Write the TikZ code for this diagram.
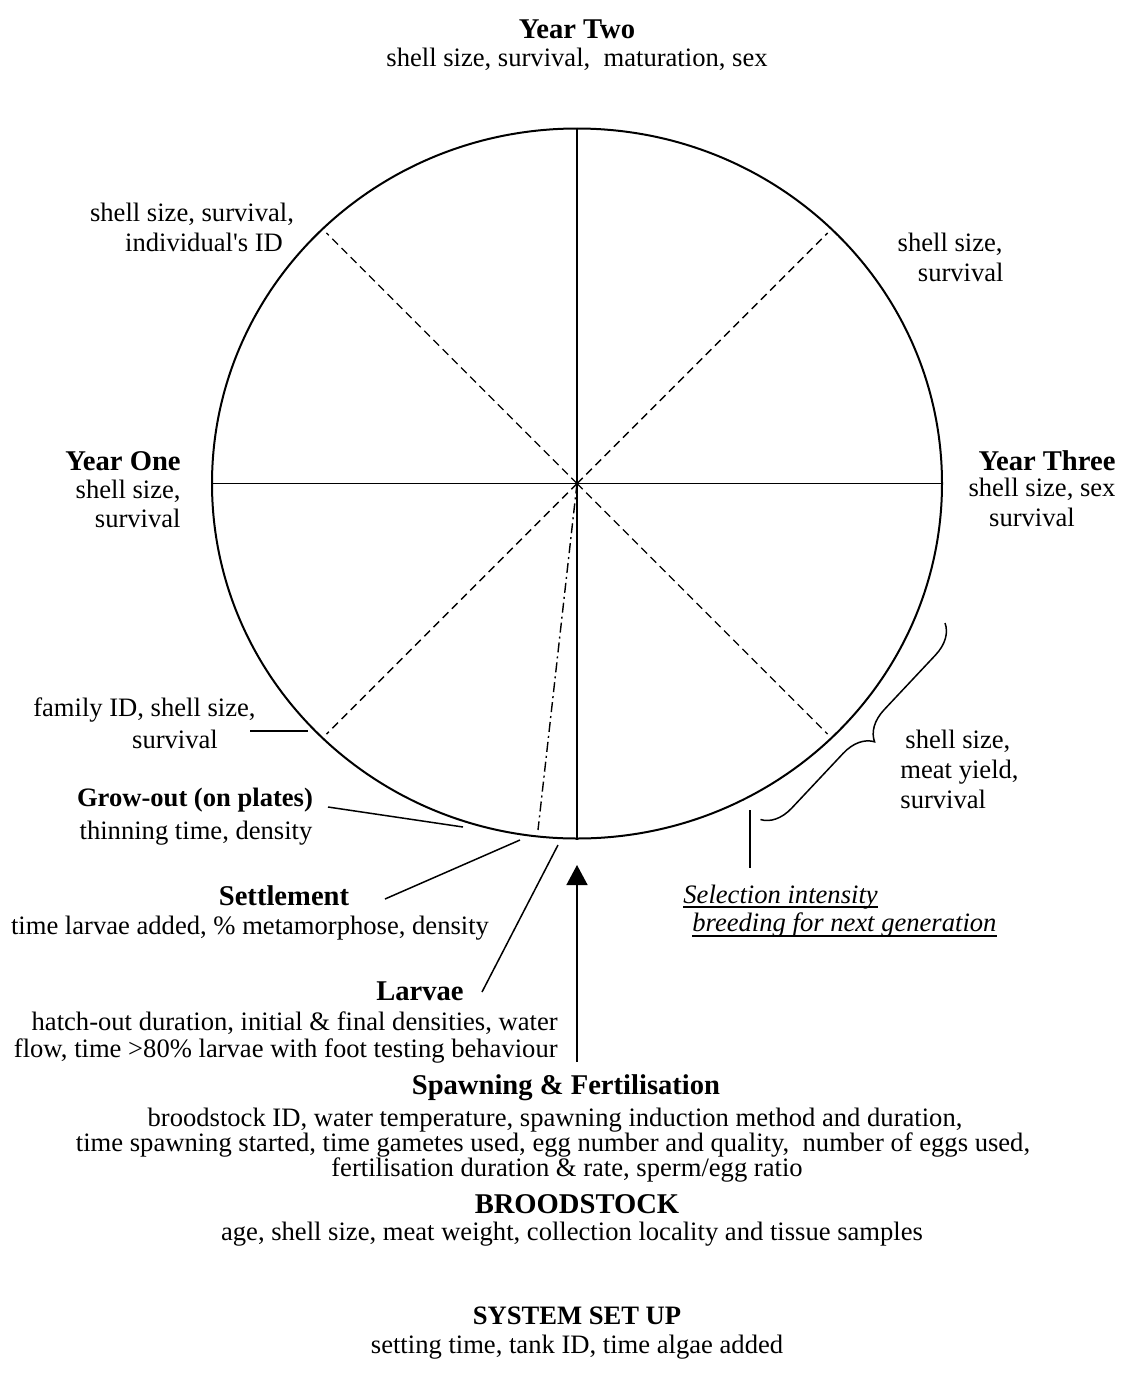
\documentclass[tikz,border=0pt]{standalone}
\usepackage{fontspec}
\setmainfont{Liberation Serif}
\usetikzlibrary{arrows.meta,shapes.geometric,decorations.pathreplacing,calc}
\begin{document}
\begin{tikzpicture}[x=0.5pt,y=-0.5pt,
  txt/.style={font=\fontsize{13.3}{15.3}\selectfont, inner sep=0pt, anchor=base},
  hd/.style={font=\fontsize{14.3}{16.5}\selectfont\bfseries, inner sep=0pt, anchor=base},
  hds/.style={font=\fontsize{13.3}{15.3}\selectfont\bfseries, inner sep=0pt, anchor=base},
  itx/.style={font=\fontsize{13.3}{15.3}\selectfont\itshape, inner sep=0pt, anchor=base west},
  spoke/.style={line width=0.8pt},
  diag/.style={line width=0.7pt, dash pattern=on 4pt off 2.5pt},
  dashdotline/.style={line width=0.7pt, dash pattern=on 5pt off 2pt on 1pt off 2pt},
  lead/.style={line width=0.75pt},
  uline/.style={line width=0.6pt}
]
\useasboundingbox (0,0) rectangle (1120,1377);

% circle and spokes
\node[ellipse, draw, line width=1pt, minimum width=365pt, minimum height=355pt, inner sep=0pt] (circ) at (577,483.5) {};
\coordinate (C) at (577,483.5);
\draw[spoke] (circ.north) -- (circ.south);
\draw[spoke] (circ.west) -- (circ.east);
\draw[diag] (C) -- ($(C)!0.982!(circ.45)$);
\draw[diag] (C) -- ($(C)!0.982!(circ.135)$);
\draw[diag] (C) -- ($(C)!0.982!(circ.225)$);
\draw[diag] (C) -- ($(C)!0.982!(circ.315)$);
\coordinate (ddend) at (538,830);
\draw[dashdotline] (C) -- (ddend);

% top
\node[hd] (y2) at (577,38) {Year Two};
\node[txt] (y2s) at (577,66) {shell size, survival,\ \ maturation, sex};

% upper left
\node[txt] (ul1) at (192,221) {shell size, survival,};
\node[txt] (ul2) at (204,251) {individual\textquotesingle s ID};

% upper right
\node[txt, anchor=base east] (ur1) at (1003,251) {shell size,};
\node[txt, anchor=base east] (ur2) at (1004,281) {survival};

% Year One
\node[hd, anchor=base east] (y1) at (181,470) {Year One};
\node[txt, anchor=base east] (y1a) at (181,498) {shell size,};
\node[txt, anchor=base east] (y1b) at (181,527) {survival};

% Year Three
\node[hd] (y3) at (1047,470) {Year Three};
\node[txt] (y3a) at (1042,496) {shell size, sex};
\node[txt] (y3b) at (1032,526) {survival};

% family ID
\node[txt, anchor=base east] (fam1) at (256,716) {family ID, shell size,};
\node[txt] (fam2) at (175,748) {survival};
\coordinate (famA) at (250,731);
\coordinate (famB) at (308,731);
\draw[lead] (famA) -- (famB);

% grow-out
\node[hds] (gro1) at (195,806) {Grow-out (on plates)};
\node[txt] (gro2) at (196,839) {thinning time, density};
\coordinate (groA) at (328,807);
\coordinate (groB) at (463,827);
\draw[lead] (groA) -- (groB);

% settlement
\node[hd] (set1) at (284,905) {Settlement};
\node[txt] (set2) at (250,934) {time larvae added, \% metamorphose, density};
\coordinate (setA) at (385,899);
\coordinate (setB) at (520,840);
\draw[lead] (setA) -- (setB);

% larvae
\node[hd] (lar1) at (420,1000) {Larvae};
\node[txt, anchor=base east] (lar2) at (558,1030) {hatch-out duration, initial \& final densities, water};
\node[txt, anchor=base east] (lar3) at (558,1057) {flow, time >80\% larvae with foot testing behaviour};
\coordinate (larA) at (482,992);
\coordinate (larB) at (558,845);
\draw[lead] (larA) -- (larB);

% arrow
\coordinate (arrB) at (577,1062);
\coordinate (arrT) at (577,865);
\draw[lead, -{Triangle[width=10.5pt,length=10pt]}] (arrB) -- (arrT);

% spawning
\node[hd] (spa0) at (566,1094) {Spawning \& Fertilisation};
\node[txt] (spa1) at (555,1126) {broodstock ID, water temperature, spawning induction method and duration,};
\node[txt] (spa2) at (553,1151) {time spawning started, time gametes used, egg number and quality,\ \ number of eggs used,};
\node[txt] (spa3) at (567,1176) {fertilisation duration \& rate, sperm/egg ratio};

% broodstock
\node[hd] (bro0) at (577,1213) {BROODSTOCK};
\node[txt] (bro1) at (572,1240) {age, shell size, meat weight, collection locality and tissue samples};

% system set up
\node[hds] (sys0) at (577,1324) {SYSTEM SET UP};
\node[txt] (sys1) at (577,1353) {setting time, tank ID, time algae added};

% year three selection brace
\coordinate (brA) at (945,623);
\coordinate (brB) at (760,820);
\draw[lead, decorate, decoration={brace, amplitude=15pt}] (brA) -- (brB);
\node[txt, anchor=base west] (sh1) at (905,748) {shell size,};
\node[txt, anchor=base west] (sh2) at (900,778) {meat yield,};
\node[txt, anchor=base west] (sh3) at (900,808) {survival};

% selection intensity
\coordinate (selA) at (750,810);
\coordinate (selB) at (750,868);
\draw[lead] (selA) -- (selB);
\node[itx] (sel1) at (683,903) {Selection intensity};
\node[itx] (sel2) at (692,931) {breeding for next generation};
\draw[uline] ([yshift=-2pt]sel1.base west) -- ([yshift=-2pt]sel1.base east);
\draw[uline] ([yshift=-2.5pt]sel2.base west) -- ([yshift=-2.5pt]sel2.base east);
\end{tikzpicture}
\end{document}
